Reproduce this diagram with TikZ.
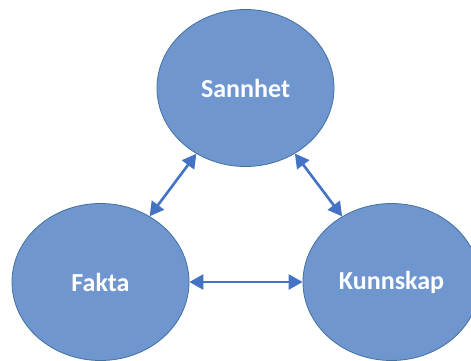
\documentclass[tikz,border=0pt]{standalone}
\usepackage{fontspec}
\setmainfont{Carlito}
\usetikzlibrary{shapes.geometric, arrows.meta}

\definecolor{conceptfill}{RGB}{112,150,208}
\definecolor{conceptline}{RGB}{65,113,156}
\definecolor{linkblue}{RGB}{68,114,196}

\tikzset{
  concept/.style={ellipse, fill=conceptfill, draw=conceptline, line width=0.8pt,
    minimum width=177pt, minimum height=157pt, inner sep=0pt,
    text=white, font=\fontsize{26}{30}\selectfont\bfseries},
  link/.style={{Triangle[length=14pt,width=15pt]}-{Triangle[length=14pt,width=15pt]},
    draw=linkblue, line width=2.6pt}
}

\begin{document}
\begin{tikzpicture}[x=1pt, y=1pt]
  \useasboundingbox (0,0) rectangle (471,360);
  \clip (0,0) rectangle (471,360);
  \foreach \name/\x/\y/\word in {
    sannhet/245.5/272/Sannhet,
    fakta/100.5/78/Fakta,
    kunnskap/391.5/78/Kunnskap
  }{
    % Concept bubble
    \node[concept] (\name) at (\x,\y) {\word};
  }
  % Two-way links
  \draw[link] (sannhet) -- (fakta);
  \draw[link] (sannhet) -- (kunnskap);
  \draw[link] (fakta) -- (kunnskap);
\end{tikzpicture}
\end{document}
